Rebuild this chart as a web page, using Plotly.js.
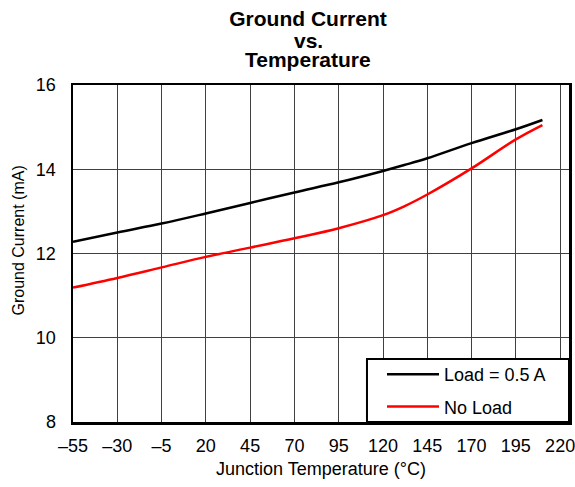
<!DOCTYPE html>
<html>
<head>
<meta charset="utf-8">
<script src="https://cdn.plot.ly/plotly-3.0.1.min.js"></script>
<style>html,body{margin:0;padding:0;background:#fff;}#chart{width:575px;height:487px;}</style>
</head>
<body>
<div id="chart"></div>
<script>
var temps = [-55, -30, -5, 20, 45, 70, 95, 120, 132, 145, 170, 195, 210];
var load05 = [12.28, 12.50, 12.71, 12.95, 13.20, 13.45, 13.69, 13.96, 14.10, 14.26, 14.62, 14.95, 15.17];
var noLoad = [11.19, 11.42, 11.67, 11.92, 12.14, 12.36, 12.60, 12.91, 13.12, 13.40, 14.02, 14.71, 15.05];
var xTickVals = [-55, -30, -5, 20, 45, 70, 95, 120, 145, 170, 195, 220];
var xTickText = ['\u201355', '\u201330', '\u20135', '20', '45', '70', '95', '120', '145', '170', '195', '220'];
var yTickVals = [8, 10, 12, 14, 16];
var titleLines = ['Ground Current', 'vs.', 'Temperature'];
var yTitle = 'Ground Current (mA)';

var font = 'Liberation Sans, Arial, sans-serif';
var traces = [
  {x: temps, y: load05, name: 'Load = 0.5 A', mode: 'lines', line: {color: '#000000', width: 2.5, shape: 'spline'}, legendgroup: 'a'},
  {x: temps, y: noLoad, name: 'No Load', mode: 'lines', line: {color: '#ff0000', width: 2.5, shape: 'spline'}, legendgroup: 'b'}
];
var layout = {
  width: 575, height: 487,
  margin: {l: 73, r: 6, t: 85, b: 65},
  paper_bgcolor: '#ffffff', plot_bgcolor: '#ffffff',
  font: {family: font, size: 18, color: '#000'},
  title: {text: '<b>' + titleLines[0] + '</b>', font: {family: font, size: 21, color: '#000'}, x: 0.5357, xanchor: 'center', xref: 'container', yref: 'container', y: 0.961, yanchor: 'middle'},
  annotations: [
    {text: '<b>' + titleLines[1] + '</b>', xref: 'paper', yref: 'paper', x: 0.4738, y: 1.1335, xanchor: 'center', yanchor: 'middle', showarrow: false, font: {family: font, size: 21, color: '#000'}},
    {text: '<b>' + titleLines[2] + '</b>', xref: 'paper', yref: 'paper', x: 0.4738, y: 1.0742, xanchor: 'center', yanchor: 'middle', showarrow: false, font: {family: font, size: 21, color: '#000'}},
    {text: yTitle, xref: 'paper', yref: 'paper', x: -0.1099, y: 0.540, xanchor: 'center', yanchor: 'middle', textangle: -90, showarrow: false, font: {family: font, size: 16, color: '#000'}}
  ],
  xaxis: {
    range: [-55, 225], tickvals: xTickVals, ticktext: xTickText,
    showgrid: true, gridcolor: '#404040', gridwidth: 1,
    showline: true, linecolor: '#000', linewidth: 2.5, mirror: true,
    ticks: '', ticklabelstandoff: 6, zeroline: false, ticklabeloverflow: 'allow',
    tickfont: {family: font, size: 18},
    title: {text: 'Junction Temperature (\u00b0C)', font: {family: font, size: 18}, standoff: 8}
  },
  yaxis: {
    range: [8, 16], tickvals: yTickVals,
    showgrid: true, gridcolor: '#404040', gridwidth: 1,
    showline: true, linecolor: '#000', linewidth: 2.5, mirror: true,
    ticks: '', ticklabelstandoff: 11, zeroline: false, ticklabeloverflow: 'allow',
    tickfont: {family: font, size: 18}
  },
  shapes: [
    {type: 'rect', xref: 'paper', yref: 'paper', x0: 0.5927, x1: 1.0, y0: 0, y1: 0.187, line: {color: '#000', width: 2}, fillcolor: '#ffffff', layer: 'above'}
  ],
  showlegend: true,
  legend: {
    x: 0.623, xanchor: 'left', y: 0.196, yanchor: 'top',
    bgcolor: 'rgba(0,0,0,0)', borderwidth: 0,
    font: {family: font, size: 18, color: '#000'},
    tracegroupgap: 6, traceorder: 'grouped', itemwidth: 52
  }
};
Plotly.newPlot('chart', traces, layout, {displayModeBar: false, staticPlot: true});
</script>
</body>
</html>
